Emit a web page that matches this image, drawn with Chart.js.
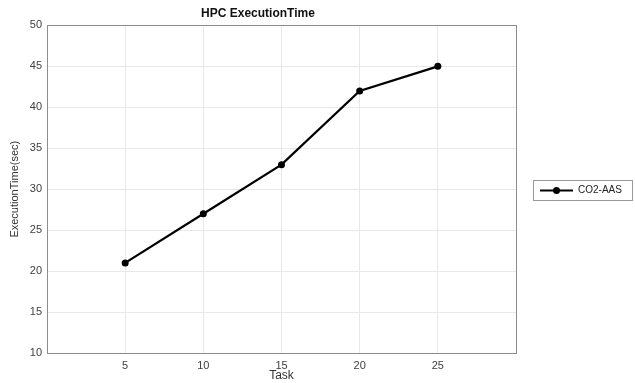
<!DOCTYPE html>
<html>
<head>
<meta charset="utf-8">
<script src="https://cdn.jsdelivr.net/npm/chart.js@4/dist/chart.umd.min.js"></script>
<style>
  html, body { margin: 0; padding: 0; background: #fff; }
  #wrap { width: 635px; height: 383px; }
</style>
</head>
<body>
<div id="wrap"><canvas id="c" width="635" height="383"></canvas></div>
<script>
var tasks = [5, 10, 15, 20, 25];
var execTime = [21, 27, 33, 42, 45];
var seriesName = 'CO2-AAS';
var chartTitle = 'HPC ExecutionTime';
var xTitle = 'Task';
var yTitle = 'ExecutionTime(sec)';

var FONT = '"Liberation Sans", Arial, sans-serif';

// box around plot + legend box on the right
var matlabBox = {
    id: 'matlabBox',
    afterDraw: function (chart) {
        var ctx = chart.ctx, a = chart.chartArea;
        ctx.save();
        ctx.strokeStyle = '#8c8c8c';
        ctx.lineWidth = 1;
        ctx.strokeRect(Math.round(a.left) + 0.5, Math.round(a.top) + 0.5,
            Math.round(a.right - a.left), Math.round(a.bottom - a.top));

        // legend
        var lx = 533, ly = 180, lw = 99, lh = 20;
        ctx.fillStyle = '#fff';
        ctx.fillRect(lx, ly, lw, lh);
        ctx.strokeStyle = '#9a9a9a';
        ctx.strokeRect(lx + 0.5, ly + 0.5, lw, lh);
        var cy = ly + lh / 2 + 0.5;
        ctx.strokeStyle = '#000';
        ctx.lineWidth = 2;
        ctx.beginPath();
        ctx.moveTo(lx + 7, cy);
        ctx.lineTo(lx + 40, cy);
        ctx.stroke();
        ctx.fillStyle = '#000';
        ctx.beginPath();
        ctx.arc(lx + 23.5, cy, 3.5, 0, Math.PI * 2);
        ctx.fill();
        ctx.fillStyle = '#222';
        ctx.font = '10px ' + FONT;
        ctx.textBaseline = 'middle';
        ctx.fillText(seriesName, lx + 45, cy);
        ctx.restore();
    }
};

new Chart(document.getElementById('c'), {
    type: 'line',
    data: {
        datasets: [{
            label: seriesName,
            data: tasks.map(function (t, i) { return { x: t, y: execTime[i] }; }),
            borderColor: '#000',
            backgroundColor: '#000',
            borderWidth: 2.2,
            pointRadius: 3.5,
            pointBackgroundColor: '#000',
            pointBorderWidth: 0,
            tension: 0
        }]
    },
    options: {
        responsive: false,
        animation: false,
        layout: { padding: { left: 0, right: 119, top: 0, bottom: 0 } },
        plugins: {
            legend: { display: false },
            tooltip: { enabled: false },
            title: {
                display: true,
                text: chartTitle,
                color: '#111',
                font: { family: FONT, size: 12, weight: 'bold' },
                padding: { top: 6, bottom: 5 }
            }
        },
        scales: {
            x: {
                type: 'linear',
                min: 0,
                max: 30,
                afterFit: function (s) { s.height = 30; },
                border: { display: false },
                grid: { color: '#e8e8e8', drawTicks: false },
                ticks: {
                    stepSize: 5,
                    padding: 6,
                    color: '#404040',
                    font: { family: FONT, size: 11 },
                    callback: function (v) { return (v === 0 || v === 30) ? '' : v; }
                },
                title: {
                    display: true,
                    text: xTitle,
                    color: '#333',
                    font: { family: FONT, size: 12 },
                    padding: { top: 0, bottom: 0 }
                }
            },
            y: {
                min: 10,
                max: 50,
                afterFit: function (s) { s.width = 47; },
                border: { display: false },
                grid: { color: '#e8e8e8', drawTicks: false },
                ticks: {
                    stepSize: 5,
                    padding: 5,
                    color: '#404040',
                    font: { family: FONT, size: 11 }
                },
                title: {
                    display: true,
                    text: yTitle,
                    color: '#333',
                    font: { family: FONT, size: 11 },
                    padding: { top: 8, bottom: 0 }
                }
            }
        }
    },
    plugins: [matlabBox]
});
</script>
</body>
</html>
